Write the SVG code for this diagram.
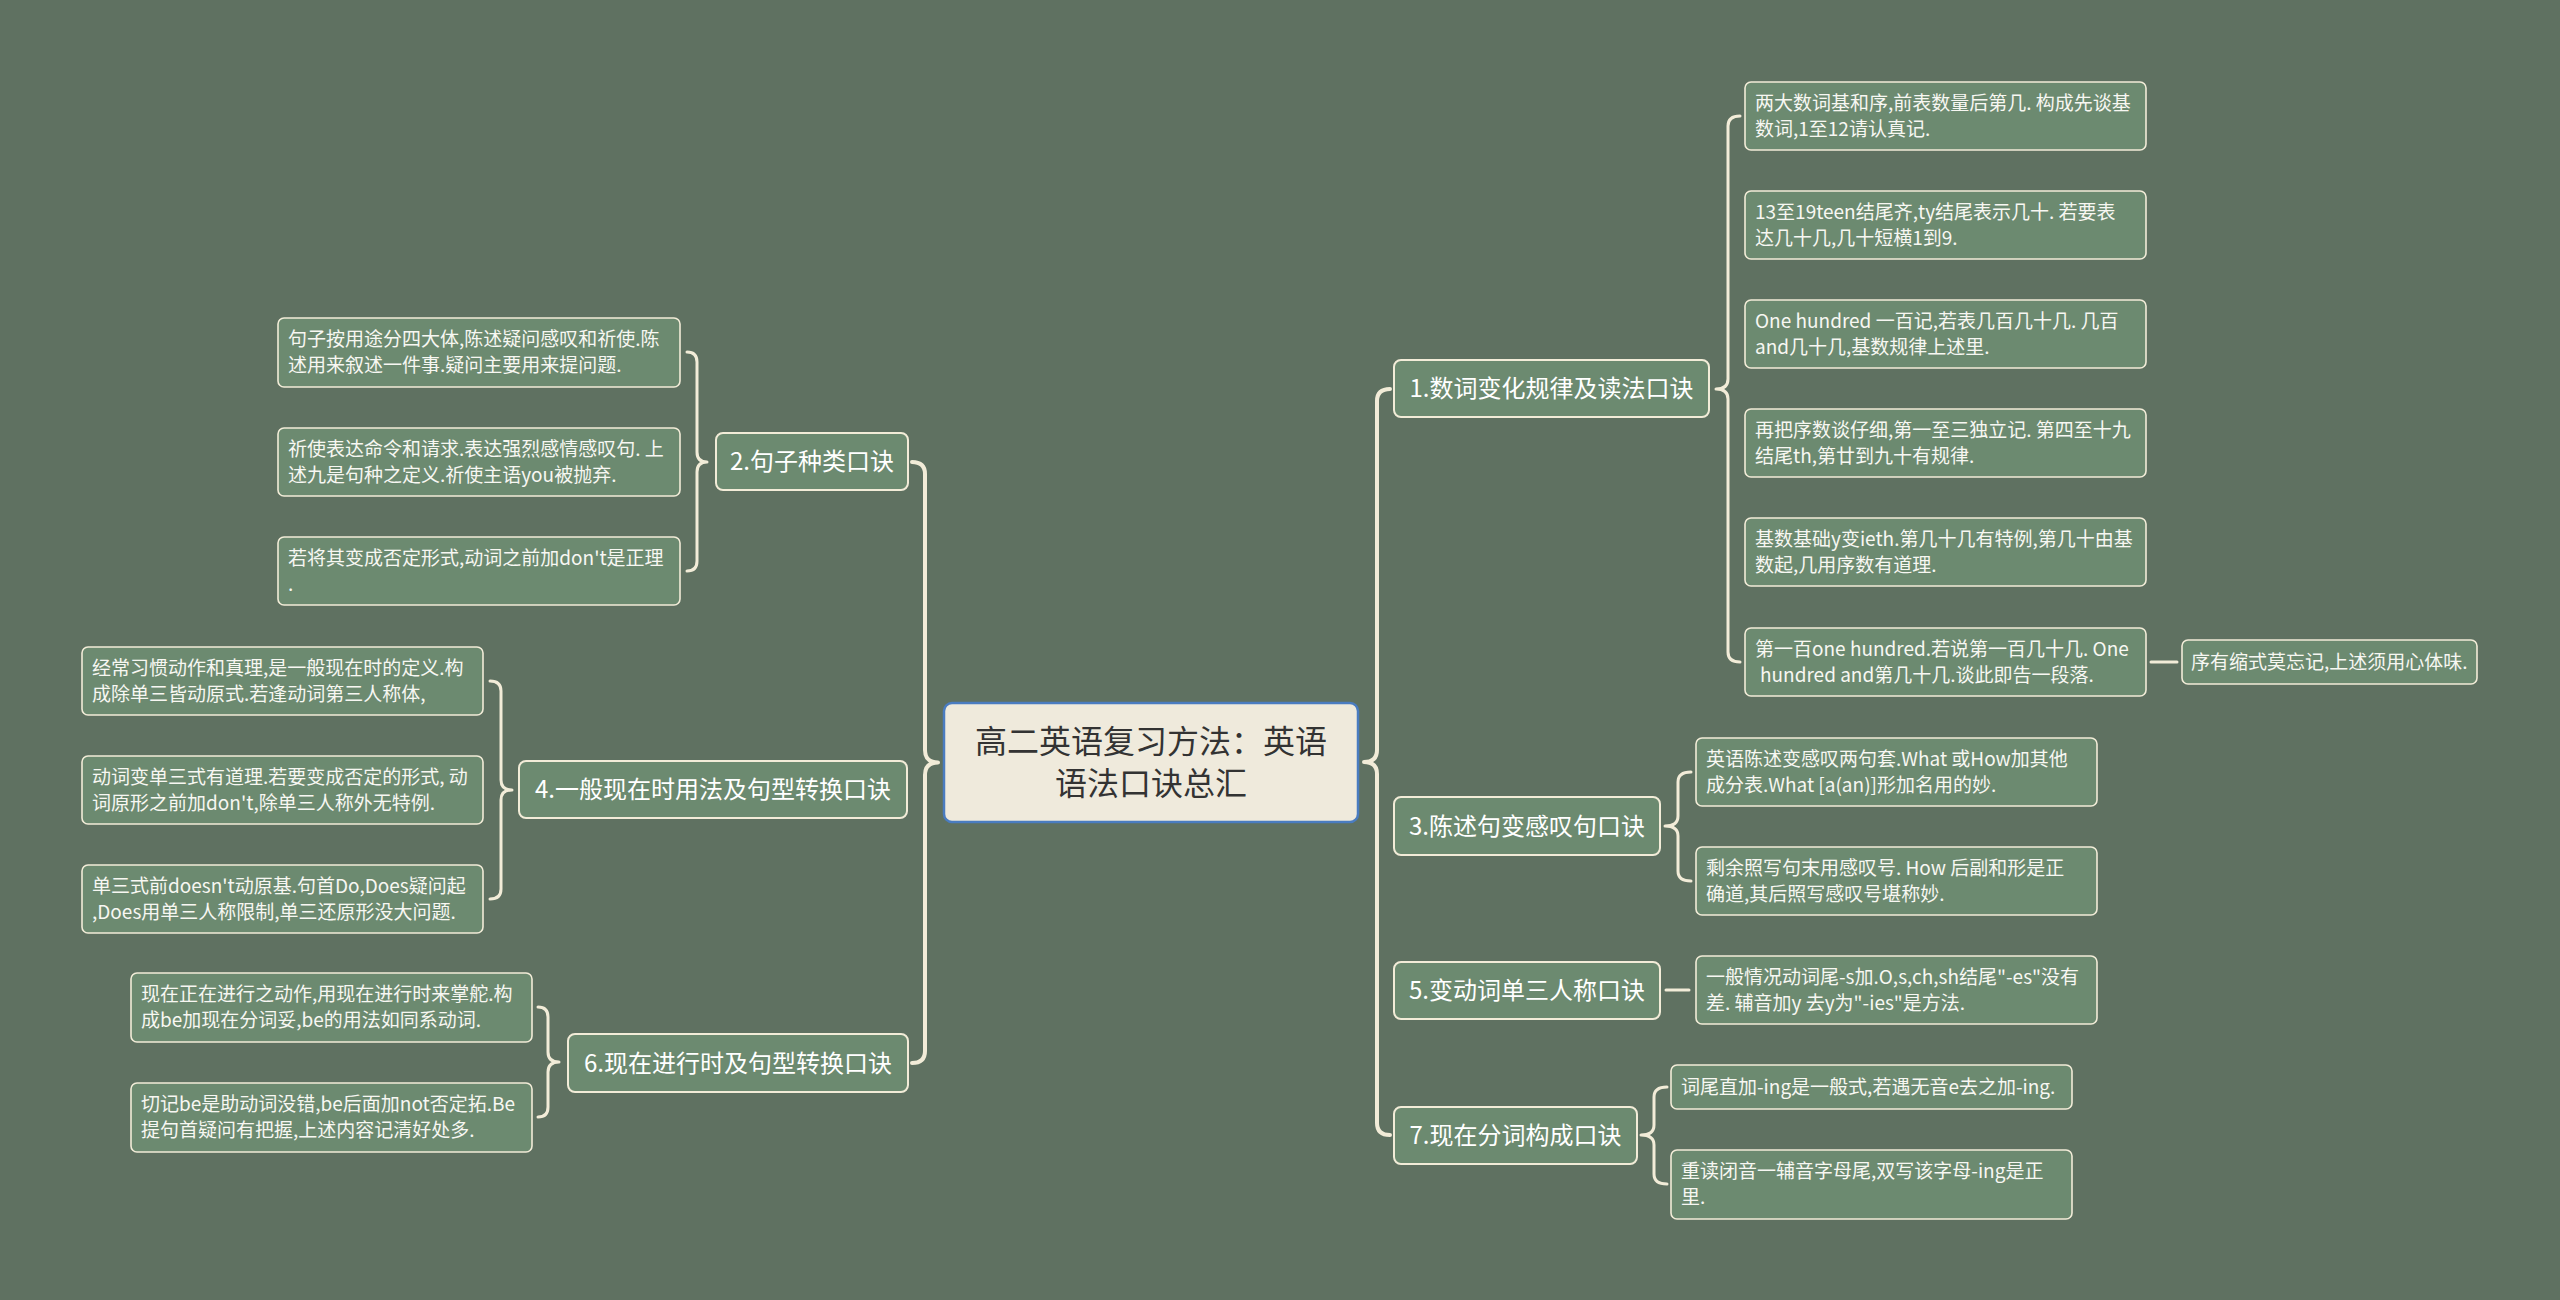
<svg xmlns="http://www.w3.org/2000/svg" width="2560" height="1300" viewBox="0 0 2560 1300">
<style>
.bg{fill:#5f7161}
.node rect{fill:#6c8a70;stroke:#f2ecd8;stroke-width:2}
.leaf rect{fill:#6c8a70;stroke:#f2ecd8;stroke-width:1.6}
.ctr rect{fill:#efeadc;stroke:#4a7cc0;stroke-width:2.5}
.nt{font-family:"Noto Sans CJK SC","Microsoft YaHei",sans-serif;font-size:24px;fill:#ffffff;text-anchor:middle}
.lt{font-family:"Noto Sans CJK SC","Microsoft YaHei",sans-serif;font-size:19px;fill:#f7f7f2}
.ct{font-family:"Noto Sans CJK SC","Microsoft YaHei",sans-serif;font-size:32px;fill:#333333;text-anchor:middle}
.con path,.con line{fill:none;stroke:#f2ecd8;stroke-linecap:round;stroke-linejoin:round}
.main{stroke-width:4}
.sub{stroke-width:3}
</style>
<rect class="bg" x="0" y="0" width="2560" height="1300"/>
<g id="connectors" class="con">
<path class="main" d="M1390,389 Q1377,389 1377,401 L1377,750 Q1377,762 1364,762 Q1377,762 1377,774 L1377,1123 Q1377,1135 1390,1135"/>
<path class="main" d="M912,462 Q925,462 925,474 L925,750 Q925,762.5 938,762.5 Q925,762.5 925,775 L925,1051 Q925,1063 912,1063"/>
<path class="sub" d="M687,352 Q697,352 697,362 L697,452 Q697,462 707,462 Q697,462 697,472 L697,561 Q697,571 687,571"/>
<path class="sub" d="M490,681 Q501,681 501,691 L501,780 Q501,790 512,790 Q501,790 501,800 L501,889 Q501,899 490,899"/>
<path class="sub" d="M538,1007 Q548,1007 548,1017 L548,1052 Q548,1062 559,1062 Q548,1062 548,1072 L548,1107 Q548,1117 538,1117"/>
<path class="sub" d="M1740,116 Q1728,116 1728,126 L1728,379 Q1728,389 1716,389 Q1728,389 1728,399 L1728,652 Q1728,662 1740,662"/>
<path class="sub" d="M1691,772 Q1678,772 1678,782 L1678,816 Q1678,826 1665,826 Q1678,826 1678,836 L1678,871 Q1678,881 1691,881"/>
<path class="sub" d="M1667,1087 Q1654,1087 1654,1097 L1654,1125 Q1654,1135 1641,1135 Q1654,1135 1654,1145 L1654,1174 Q1654,1184 1667,1184"/>
<line class="sub" x1="1666" y1="990" x2="1689" y2="990"/>
<line class="sub" x1="2151" y1="662" x2="2177" y2="662"/>
</g>
<g id="center" class="ctr">
<rect x="944" y="703" width="414" height="119" rx="8"/>
<text class="ct" x="1151" y="753">高二英语复习方法：英语</text>
<text class="ct" x="1151" y="795">语法口诀总汇</text>
</g>
<g id="n1" class="node"><rect x="1394" y="360" width="315" height="57" rx="7"/><text class="nt" x="1551.5" y="397">1.数词变化规律及读法口诀</text></g>
<g id="n2" class="node"><rect x="716" y="433" width="192" height="57" rx="7"/><text class="nt" x="812" y="470">2.句子种类口诀</text></g>
<g id="n3" class="node"><rect x="1394" y="797" width="266" height="58" rx="7"/><text class="nt" x="1527" y="834.5">3.陈述句变感叹句口诀</text></g>
<g id="n4" class="node"><rect x="519" y="761" width="388" height="57" rx="7"/><text class="nt" x="713" y="798">4.一般现在时用法及句型转换口诀</text></g>
<g id="n5" class="node"><rect x="1394" y="962" width="266" height="57" rx="7"/><text class="nt" x="1527" y="999">5.变动词单三人称口诀</text></g>
<g id="n6" class="node"><rect x="568" y="1034" width="340" height="58" rx="7"/><text class="nt" x="738" y="1071.5">6.现在进行时及句型转换口诀</text></g>
<g id="n7" class="node"><rect x="1394" y="1107" width="243" height="57" rx="7"/><text class="nt" x="1515.5" y="1144">7.现在分词构成口诀</text></g>
<g id="a1" class="leaf"><rect x="278" y="318" width="402" height="69" rx="6"/><text class="lt" x="288" y="346">句子按用途分四大体,陈述疑问感叹和祈使.陈</text><text class="lt" x="288" y="372">述用来叙述一件事.疑问主要用来提问题.</text></g>
<g id="a2" class="leaf"><rect x="278" y="428" width="402" height="68" rx="6"/><text class="lt" x="288" y="455.5">祈使表达命令和请求.表达强烈感情感叹句. 上</text><text class="lt" x="288" y="481.5">述九是句种之定义.祈使主语you被抛弃.</text></g>
<g id="a3" class="leaf"><rect x="278" y="537" width="402" height="68" rx="6"/><text class="lt" x="288" y="564.5">若将其变成否定形式,动词之前加don't是正理</text><text class="lt" x="288" y="590.5">.</text></g>
<g id="b1" class="leaf"><rect x="82" y="647" width="401" height="68" rx="6"/><text class="lt" x="92" y="674.5">经常习惯动作和真理,是一般现在时的定义.构</text><text class="lt" x="92" y="700.5">成除单三皆动原式.若逢动词第三人称体,</text></g>
<g id="b2" class="leaf"><rect x="82" y="756" width="401" height="68" rx="6"/><text class="lt" x="92" y="783.5">动词变单三式有道理.若要变成否定的形式, 动</text><text class="lt" x="92" y="809.5">词原形之前加don't,除单三人称外无特例.</text></g>
<g id="b3" class="leaf"><rect x="82" y="865" width="401" height="68" rx="6"/><text class="lt" x="92" y="892.5">单三式前doesn't动原基.句首Do,Does疑问起</text><text class="lt" x="92" y="918.5">,Does用单三人称限制,单三还原形没大问题.</text></g>
<g id="c1" class="leaf"><rect x="131" y="973" width="401" height="69" rx="6"/><text class="lt" x="141" y="1001">现在正在进行之动作,用现在进行时来掌舵.构</text><text class="lt" x="141" y="1027">成be加现在分词妥,be的用法如同系动词.</text></g>
<g id="c2" class="leaf"><rect x="131" y="1083" width="401" height="69" rx="6"/><text class="lt" x="141" y="1111">切记be是助动词没错,be后面加not否定拓.Be</text><text class="lt" x="141" y="1137">提句首疑问有把握,上述内容记清好处多.</text></g>
<g id="d1" class="leaf"><rect x="1745" y="82" width="401" height="68" rx="6"/><text class="lt" x="1755" y="109.5">两大数词基和序,前表数量后第几. 构成先谈基</text><text class="lt" x="1755" y="135.5">数词,1至12请认真记.</text></g>
<g id="d2" class="leaf"><rect x="1745" y="191" width="401" height="68" rx="6"/><text class="lt" x="1755" y="218.5">13至19teen结尾齐,ty结尾表示几十. 若要表</text><text class="lt" x="1755" y="244.5">达几十几,几十短横1到9.</text></g>
<g id="d3" class="leaf"><rect x="1745" y="300" width="401" height="68" rx="6"/><text class="lt" x="1755" y="327.5">One hundred 一百记,若表几百几十几. 几百</text><text class="lt" x="1755" y="353.5">and几十几,基数规律上述里.</text></g>
<g id="d4" class="leaf"><rect x="1745" y="409" width="401" height="68" rx="6"/><text class="lt" x="1755" y="436.5">再把序数谈仔细,第一至三独立记. 第四至十九</text><text class="lt" x="1755" y="462.5">结尾th,第廿到九十有规律.</text></g>
<g id="d5" class="leaf"><rect x="1745" y="518" width="401" height="68" rx="6"/><text class="lt" x="1755" y="545.5">基数基础y变ieth.第几十几有特例,第几十由基</text><text class="lt" x="1755" y="571.5">数起,几用序数有道理.</text></g>
<g id="d6" class="leaf"><rect x="1745" y="628" width="401" height="68" rx="6"/><text class="lt" x="1755" y="655.5">第一百one hundred.若说第一百几十几. One</text><text class="lt" x="1760" y="681.5">hundred and第几十几.谈此即告一段落.</text></g>
<g id="e1" class="leaf"><rect x="2182" y="640" width="295" height="44" rx="6"/><text class="lt" x="2191" y="668.5">序有缩式莫忘记,上述须用心体味.</text></g>
<g id="f1" class="leaf"><rect x="1696" y="738" width="401" height="68" rx="6"/><text class="lt" x="1706" y="765.5">英语陈述变感叹两句套.What 或How加其他</text><text class="lt" x="1706" y="791.5">成分表.What [a(an)]形加名用的妙.</text></g>
<g id="f2" class="leaf"><rect x="1696" y="847" width="401" height="68" rx="6"/><text class="lt" x="1706" y="874.5">剩余照写句末用感叹号. How 后副和形是正</text><text class="lt" x="1706" y="900.5">确道,其后照写感叹号堪称妙.</text></g>
<g id="g1" class="leaf"><rect x="1696" y="956" width="401" height="68" rx="6"/><text class="lt" x="1706" y="983.5">一般情况动词尾-s加.O,s,ch,sh结尾"-es"没有</text><text class="lt" x="1706" y="1009.5">差. 辅音加y 去y为"-ies"是方法.</text></g>
<g id="h1" class="leaf"><rect x="1671" y="1065" width="401" height="44" rx="6"/><text class="lt" x="1681" y="1093.5">词尾直加-ing是一般式,若遇无音e去之加-ing.</text></g>
<g id="h2" class="leaf"><rect x="1671" y="1150" width="401" height="69" rx="6"/><text class="lt" x="1681" y="1178">重读闭音一辅音字母尾,双写该字母-ing是正</text><text class="lt" x="1681" y="1204">里.</text></g>
</svg>
